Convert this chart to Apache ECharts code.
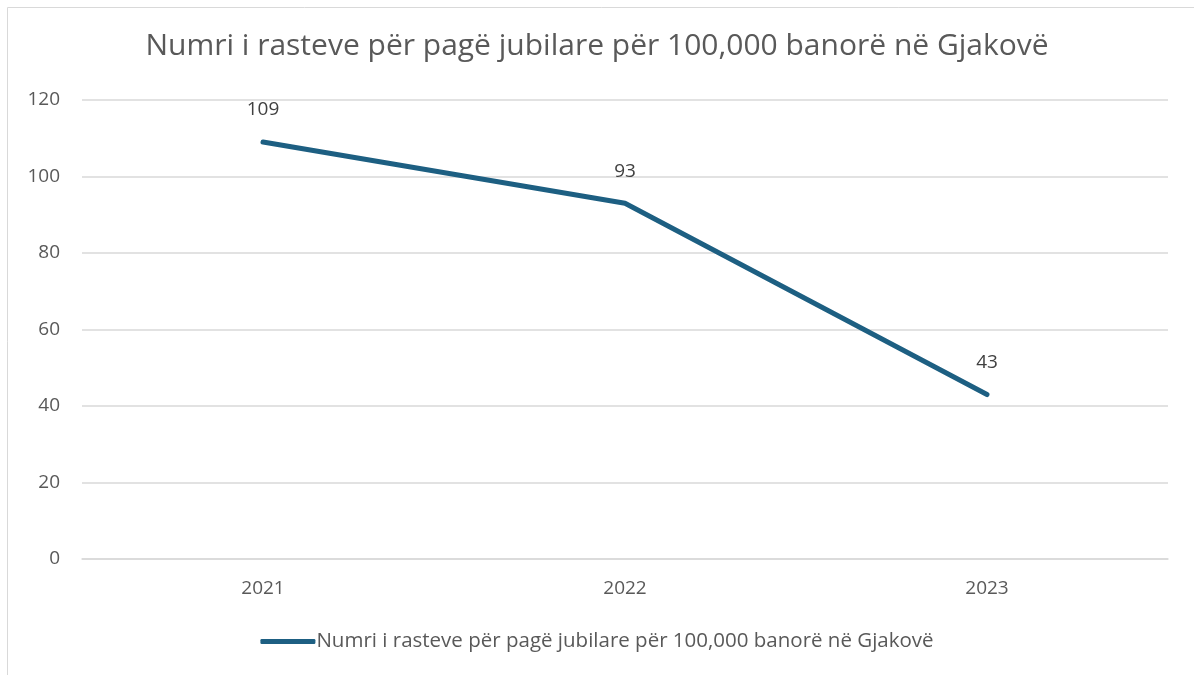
<!DOCTYPE html>
<html><head><meta charset="utf-8">
<script src="https://cdn.jsdelivr.net/npm/echarts@6/dist/echarts.min.js"></script>
<style>html,body{margin:0;padding:0;background:#fff}#c{width:1194px;height:675px}</style>
</head><body><div id="c"></div>
<script>
const titleText = 'Numri i rasteve për pagë jubilare për 100,000 banorë në Gjakovë';
const seriesName = 'Numri i rasteve për pagë jubilare për 100,000 banorë në Gjakovë';
const categories = ['2021', '2022', '2023'];
const values = [109, 93, 43];
const yTicks = {min: 0, max: 120, interval: 20};
const FONT = '"Open Sans", Lato, sans-serif';
const chart = echarts.init(document.getElementById('c'));
chart.setOption({
  animation: false,
  graphic: [{type: 'rect', shape: {x: 7.5, y: 7.5, width: 1200, height: 700}, style: {fill: 'none', stroke: '#d9d9d9', lineWidth: 1}, z: -1}],
  title: {text: titleText, left: 'center', top: 26, textStyle: {fontFamily: FONT, fontSize: 30, fontWeight: 'normal', color: '#595959'}},
  grid: {left: 82, right: 26, top: 100, bottom: 116},
  legend: {bottom: 18, left: 'center', itemWidth: 55, itemHeight: 5, itemGap: 5, icon: 'roundRect',
    textStyle: {fontFamily: FONT, fontSize: 20.5, color: '#595959', padding: [0,0,0,-4]}},
  xAxis: {type: 'category', data: categories, boundaryGap: true,
    axisLine: {lineStyle: {color: '#d9d9d9', width: 1.5}}, axisTick: {show: false},
    axisLabel: {fontFamily: FONT, fontSize: 19, color: '#595959', margin: 20}},
  yAxis: {type: 'value', min: yTicks.min, max: yTicks.max, interval: yTicks.interval,
    axisLine: {show: false}, axisTick: {show: false},
    splitLine: {lineStyle: {color: '#d9d9d9', width: 1.5}},
    axisLabel: {fontFamily: FONT, fontSize: 19, color: '#595959', margin: 22}},
  series: [{name: seriesName, type: 'line', data: values, symbol: 'circle', symbolSize: 1, showSymbol: true,
    lineStyle: {color: '#1d5f82', width: 5, cap: 'round', join: 'round'}, itemStyle: {color: '#1d5f82'},
    label: {show: true, position: 'top', distance: 22, fontFamily: FONT, fontSize: 19, color: '#404040'}}]
});
</script></body></html>
